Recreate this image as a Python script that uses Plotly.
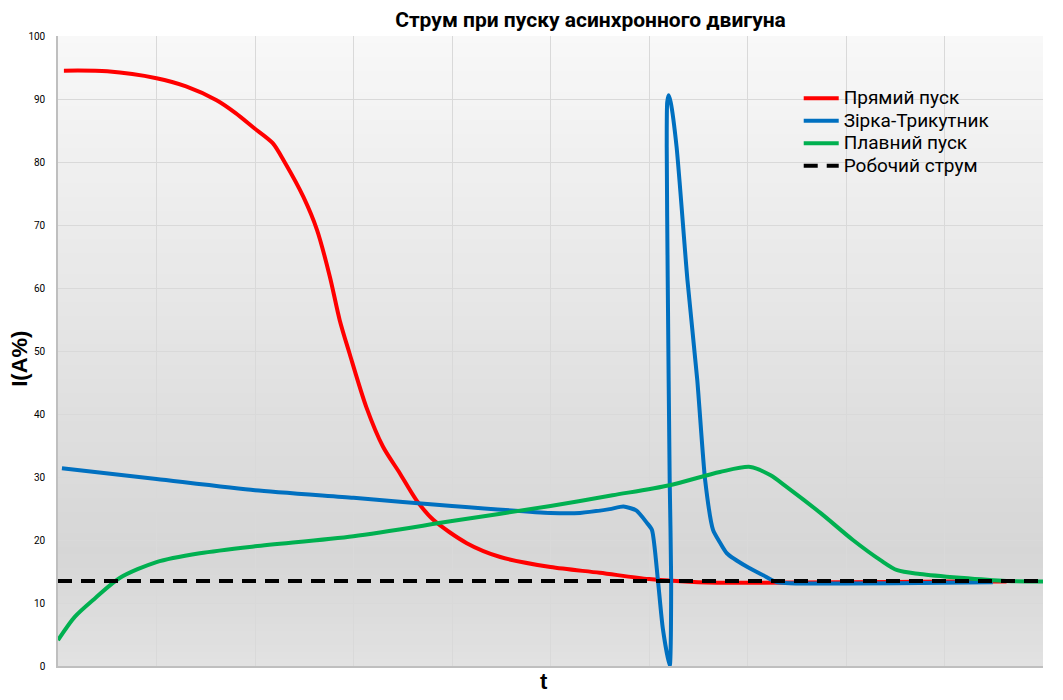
import plotly.graph_objects as go

# --- data (x in grid units 0..10, y in I(A%)) ---
direct_x = [0.06, 0.5, 1.0, 1.3, 1.61, 1.8, 1.99, 2.18, 2.3, 2.49, 2.63, 2.76,
            2.86, 2.96, 3.13, 3.30, 3.47, 3.64, 3.81, 4.15, 4.49, 5.0, 5.5,
            6.0, 6.5, 7.0, 8.0, 9.0, 9.63]
direct_y = [94.5, 94.4, 93.3, 92.0, 89.8, 87.8, 85.4, 83.0, 80.0, 74.5, 69.2,
            61.8, 54.9, 49.6, 41.1, 34.8, 30.6, 26.3, 23.2, 19.5, 17.3, 15.7,
            14.8, 13.8, 13.3, 13.2, 13.3, 13.4, 13.4]

star_delta_x = [0.04, 1.0, 2.0, 3.0, 4.0, 5.0, 5.3, 5.6, 5.74, 5.87, 5.98,
                6.03, 6.09, 6.14, 6.21, 6.225, 6.21, 6.19, 6.18, 6.185, 6.20,
                6.22, 6.28, 6.39, 6.49, 6.57, 6.65, 6.72, 6.79, 7.0, 7.16,
                7.30, 8.0, 9.0, 9.49]
star_delta_y = [31.4, 29.7, 27.9, 26.7, 25.4, 24.3, 24.3, 24.9, 25.3, 24.7,
                22.7, 21.6, 13.7, 6.0, 0.0, 13.7, 29.5, 61.3, 82.4, 89.5, 90.6,
                89.5, 82.4, 61.3, 45.4, 29.5, 21.6, 19.6, 17.9, 15.7, 14.4,
                13.3, 13.1, 13.2, 13.3]

soft_x = [0.0, 0.17, 0.38, 0.63, 1.0, 1.44, 2.0, 3.0, 4.0, 5.0, 5.63, 6.21,
          6.72, 7.03, 7.23, 7.40, 7.74, 8.07, 8.35, 8.52, 8.75, 9.16, 9.63, 10.0]
soft_y = [4.1, 7.8, 10.8, 14.0, 16.5, 17.9, 19.0, 20.6, 23.0, 25.4, 27.1,
          28.7, 30.8, 31.6, 30.3, 28.4, 24.3, 20.0, 16.8, 15.2, 14.6, 14.0,
          13.5, 13.4]

rated_x = [0.0, 10.0]
rated_y = [13.5, 13.5]

names = ["Прямий пуск", "Зірка-Трикутник", "Плавний пуск", "Робочий струм"]


def legend_name(s):
    # legend rows are packed tighter than plotly's default spacing for this size
    return f'<span style="font-size:19px">{s}</span>'


fig = go.Figure()
fig.add_trace(go.Scatter(x=direct_x, y=direct_y, mode="lines", name=legend_name(names[0]),
                         line=dict(color="#ff0000", width=4, shape="spline", smoothing=0.8)))
fig.add_trace(go.Scatter(x=star_delta_x, y=star_delta_y, mode="lines", name=legend_name(names[1]),
                         line=dict(color="#0070c0", width=4, shape="spline", smoothing=0.6)))
fig.add_trace(go.Scatter(x=soft_x, y=soft_y, mode="lines", name=legend_name(names[2]),
                         line=dict(color="#00b050", width=4, shape="spline", smoothing=0.8)))
fig.add_trace(go.Scatter(x=rated_x, y=rated_y, mode="lines", name=legend_name(names[3]),
                         line=dict(color="#000000", width=4, dash="14px,9px")))

# vertical gradient behind the plot area (light on top, darkest near bottom)
n_bands = 90
for i in range(n_bands):
    t = (i + 0.5) / n_bands  # 0 at top, 1 at bottom
    if t < 0.82:
        g = 248 - (248 - 214) * t / 0.82
    else:
        g = 214 + (226 - 214) * (t - 0.82) / 0.18
    g = int(round(g))
    fig.add_shape(type="rect", xref="x domain", yref="y domain",
                  x0=0, x1=1, y0=1 - (i + 1) / n_bands, y1=1 - i / n_bands,
                  fillcolor=f"rgb({g},{g},{g})", line=dict(width=0), layer="below")

# axis titles placed as annotations to sit exactly where the original has them
fig.add_annotation(text="<b>t</b>", xref="paper", yref="paper", x=0.493, y=-0.024,
                   xanchor="center", yanchor="middle", showarrow=False,
                   font=dict(family="Liberation Sans", size=22, color="black"))
fig.add_annotation(text="<b>I(A%)</b>", xref="paper", yref="paper", x=-0.039, y=0.487,
                   xanchor="center", yanchor="middle", showarrow=False, textangle=-90,
                   font=dict(family="Liberation Sans", size=22, color="black"))

fig.update_layout(
    width=1063, height=700,
    margin=dict(l=50, r=28, t=28, b=42),
    paper_bgcolor="white",
    plot_bgcolor="rgba(0,0,0,0)",
    font=dict(family="Roboto", color="black"),
    title=dict(text="<b>Струм при пуску асинхронного двигуна</b>",
               font=dict(family="Roboto", size=21, color="black"),
               x=0.548, xref="container", xanchor="center",
               y=0.984, yref="container", yanchor="middle"),
    legend=dict(x=0.752, y=0.927, xanchor="left", yanchor="top",
                bgcolor="rgba(0,0,0,0)", font=dict(family="Roboto", size=15),
                tracegroupgap=0, itemwidth=35),
    showlegend=True,
)
fig.update_xaxes(range=[0, 10], dtick=1, showticklabels=False, showgrid=True,
                 gridcolor="#d9d9d9", gridwidth=1, zeroline=False,
                 showline=True, linecolor="#bfbfbf", linewidth=1.5,
                 automargin=False)
fig.update_yaxes(range=[0, 100], dtick=10, showgrid=True, gridcolor="#d9d9d9",
                 gridwidth=1, zeroline=False, showline=True, linecolor="#bfbfbf",
                 linewidth=1.5, tickfont=dict(size=10, family="Roboto"),
                 ticklabelstandoff=9, automargin=False)

fig.write_html("out.html")
